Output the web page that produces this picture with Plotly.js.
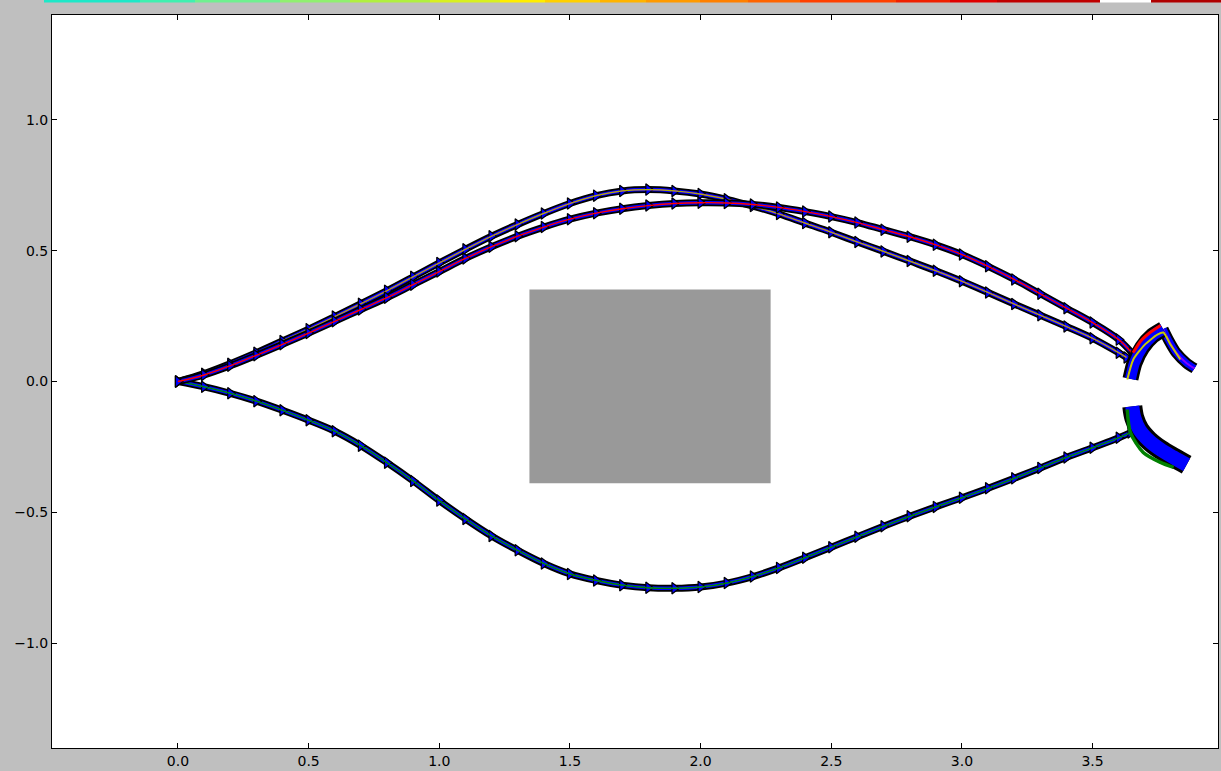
<!DOCTYPE html>
<html>
<head>
<meta charset="utf-8">
<script src="https://cdn.plot.ly/plotly-3.0.1.min.js"></script>
<style>
  html, body { margin: 0; padding: 0; background: #bfbfbf; }
  #plot { width: 1221px; height: 771px; }
</style>
</head>
<body>
<div id="plot"></div>
<script>
// Upper path, first trajectory (purple / olive centre lines)
const upperAX = [0, 0.1, 0.2, 0.3, 0.4, 0.5, 0.6, 0.7, 0.8, 0.9, 1.0, 1.1, 1.2, 1.3, 1.4, 1.5, 1.6, 1.7, 1.8, 1.9,
                 2.0, 2.1, 2.2, 2.3, 2.4, 2.5, 2.6, 2.7, 2.8, 2.9, 3.0, 3.1, 3.2, 3.3, 3.4, 3.5, 3.6, 3.63];
const upperAY = [0, 0.03, 0.068, 0.11, 0.155, 0.2, 0.248, 0.297, 0.347, 0.4, 0.453, 0.505, 0.555, 0.6, 0.642, 0.68, 0.71, 0.728, 0.733, 0.728,
                 0.716, 0.696, 0.67, 0.64, 0.605, 0.57, 0.533, 0.497, 0.46, 0.423, 0.383, 0.34, 0.296, 0.253, 0.21, 0.165, 0.11, 0.092];

// Upper path, second trajectory (red centre line)
const upperBX = [0, 0.1, 0.2, 0.3, 0.4, 0.5, 0.6, 0.7, 0.8, 0.9, 1.0, 1.1, 1.2, 1.3, 1.4, 1.5, 1.6, 1.7, 1.8, 1.9,
                 2.0, 2.1, 2.2, 2.3, 2.4, 2.5, 2.6, 2.7, 2.8, 2.9, 3.0, 3.1, 3.2, 3.3, 3.4, 3.5, 3.6, 3.65];
const upperBY = [0, 0.025, 0.06, 0.1, 0.142, 0.185, 0.23, 0.275, 0.32, 0.37, 0.42, 0.47, 0.515, 0.555, 0.59, 0.62, 0.643, 0.66, 0.672, 0.68,
                 0.683, 0.682, 0.676, 0.665, 0.649, 0.63, 0.607, 0.58, 0.553, 0.522, 0.485, 0.44, 0.39, 0.335, 0.28, 0.225, 0.16, 0.11];

// Lower path (green centre line)
const lowerX = [0, 0.1, 0.2, 0.3, 0.4, 0.5, 0.6, 0.7, 0.8, 0.9, 1.0, 1.1, 1.2, 1.3, 1.4, 1.5, 1.6, 1.7, 1.8, 1.9,
                2.0, 2.1, 2.2, 2.3, 2.4, 2.5, 2.6, 2.7, 2.8, 2.9, 3.0, 3.1, 3.2, 3.3, 3.4, 3.5, 3.6, 3.645];
const lowerY = [0, -0.02, -0.045, -0.075, -0.11, -0.148, -0.19, -0.245, -0.31, -0.38, -0.455, -0.525, -0.59, -0.645, -0.695, -0.735, -0.76, -0.778, -0.788, -0.79,
                -0.785, -0.77, -0.745, -0.712, -0.673, -0.633, -0.593, -0.553, -0.515, -0.479, -0.444, -0.408, -0.37, -0.33, -0.29, -0.253, -0.215, -0.195];

// Turning arc at the end of the upper paths: rising leg, falling leg and its edge lines
const hookRiseX = [3.645, 3.66, 3.69, 3.73, 3.77];
const hookRiseY = [0.01, 0.07, 0.13, 0.175, 0.2];
const hookFallX = [3.77, 3.79, 3.82, 3.86, 3.89];
const hookFallY = [0.2, 0.16, 0.11, 0.07, 0.05];
const hookRedX = [3.655, 3.683, 3.72, 3.76];
const hookRedY = [0.11, 0.153, 0.187, 0.214];
const hookOliveX = [3.633, 3.656, 3.70, 3.748, 3.771, 3.798, 3.836];
const hookOliveY = [0.008, 0.084, 0.141, 0.179, 0.187, 0.141, 0.084];

// Turning arc at the end of the lower path
const hookLowX = [3.652, 3.66, 3.68, 3.715, 3.76, 3.81, 3.86];
const hookLowY = [-0.095, -0.14, -0.185, -0.225, -0.26, -0.29, -0.318];
const hookGreenX = [3.633, 3.645, 3.694, 3.76, 3.81];
const hookGreenY = [-0.107, -0.195, -0.271, -0.309, -0.328];

// Obstacle block
const blockX = [1.345, 2.268];
const blockY = [-0.389, 0.351];

// Axis ticks
const xTicks = [0.0, 0.5, 1.0, 1.5, 2.0, 2.5, 3.0, 3.5];
const yTicks = [-1.0, -0.5, 0.0, 0.5, 1.0];

// Colour strip along the top edge (pixel edges and colours)
const stripEdges = [44, 140, 195, 280, 350, 430, 500, 545, 600, 646, 700, 748, 800, 896, 950, 997, 1100, 1151, 1221];
const stripColors = ['#1ee8c8', '#40f0b0', '#70f090', '#90f070', '#b0f040', '#d8f020', '#ffee00', '#ffd000', '#ffb400',
                     '#ff9a00', '#ff8000', '#ff6400', '#ff4000', '#f02000', '#e00000', '#c00000', '#ffffff', '#b00000'];

const M = { l: 52, r: 3, t: 15, b: 23 };
const W = 1221, H = 771;
const plotW = W - M.l - M.r, plotH = H - M.t - M.b;

function line(xs, ys, colour, width, smoothing) {
  return { x: xs, y: ys, mode: 'lines', hoverinfo: 'skip', showlegend: false,
           line: { shape: 'spline', smoothing: smoothing || 1, color: colour, width: width } };
}

function pathTraces(xs, ys, colours) {
  const out = [line(xs, ys, '#000000', 7), line(xs, ys, '#0000ff', 3.5)];
  out.push({ x: xs, y: ys, mode: 'markers', hoverinfo: 'skip', showlegend: false,
             marker: { symbol: 'triangle-right', size: 10, color: '#0000ff', line: { color: '#000000', width: 1.2 } } });
  colours.forEach(function (c, i) { out.push(line(xs, ys, c, 1.4 - i * 0.2)); });
  return out;
}

const traces = [];
traces.push({
  x: [blockX[0], blockX[1], blockX[1], blockX[0], blockX[0]],
  y: [blockY[0], blockY[0], blockY[1], blockY[1], blockY[0]],
  mode: 'lines', fill: 'toself', fillcolor: '#999999', line: { width: 0, color: '#999999' },
  hoverinfo: 'skip', showlegend: false
});
pathTraces(lowerX, lowerY, ['#008080', '#008000']).forEach(t => traces.push(t));
pathTraces(upperAX, upperAY, ['#8000ff', '#b0b000']).forEach(t => traces.push(t));
pathTraces(upperBX, upperBY, ['#ff0000']).forEach(t => traces.push(t));

// upper turning arc
traces.push(line(hookFallX, hookFallY, '#000000', 11, 0.6));
traces.push(line(hookFallX, hookFallY, '#0000ff', 7, 0.6));
traces.push(line(hookFallX, hookFallY, '#8000ff', 2, 0.6));
traces.push(line(hookRiseX, hookRiseY, '#000000', 16, 0.6));
traces.push(line(hookRiseX, hookRiseY, '#0000ff', 11, 0.6));
traces.push(line(hookRedX, hookRedY, '#ff0000', 3, 0.6));
traces.push(line(hookOliveX, hookOliveY, '#c8c800', 2, 0.6));

// lower turning arc
traces.push(line(hookLowX, hookLowY, '#000000', 20, 1));
traces.push(line(hookLowX, hookLowY, '#0000ff', 14, 1));
traces.push(line(hookGreenX, hookGreenY, '#008000', 3.5, 0.8));

const shapes = [];
for (let i = 0; i < stripColors.length; i++) {
  shapes.push({
    type: 'rect', xref: 'paper', yref: 'paper', layer: 'above',
    x0: (stripEdges[i] - M.l) / plotW, x1: (stripEdges[i + 1] - M.l) / plotW,
    y0: 1 + (M.t - 2.5) / plotH, y1: 1 + M.t / plotH,
    fillcolor: stripColors[i], line: { width: 0 }
  });
}

const axisCommon = {
  showgrid: false, zeroline: false,
  showline: true, linecolor: '#000000', linewidth: 1, mirror: 'ticks',
  ticks: 'inside', ticklen: 5, tickwidth: 1, tickcolor: '#000000',
  tickfont: { family: 'DejaVu Sans', size: 14, color: '#000000' },
  tickformat: '.1f'
};

const layout = {
  width: W, height: H,
  margin: M,
  paper_bgcolor: '#bfbfbf', plot_bgcolor: '#ffffff',
  showlegend: false,
  xaxis: Object.assign({}, axisCommon, { range: [-0.482, 3.98], tickvals: xTicks }),
  yaxis: Object.assign({}, axisCommon, { range: [-1.4, 1.4], tickvals: yTicks }),
  shapes: shapes
};

Plotly.newPlot('plot', traces, layout, { displayModeBar: false, staticPlot: true });
</script>
</body>
</html>
